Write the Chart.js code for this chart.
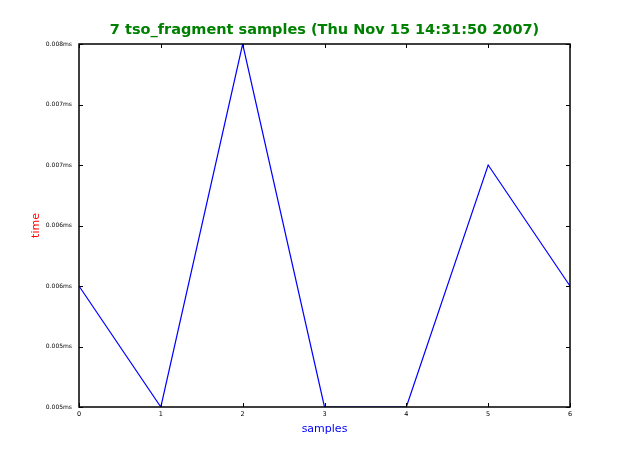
<!DOCTYPE html>
<html>
<head>
<meta charset="utf-8">
<script src="https://cdn.jsdelivr.net/npm/chart.js@4/dist/chart.umd.min.js"></script>
<style>
  html, body { margin: 0; padding: 0; background: #fff; }
  #wrap { width: 633px; height: 453px; }
</style>
</head>
<body>
<div id="wrap"><canvas id="chSamples" width="633" height="453"></canvas></div>
<script>
// ============ 数据 ============
const samples = [0, 1, 2, 3, 4, 5, 6];
const times = [0.0060, 0.0050, 0.0080, 0.0050, 0.0050, 0.0070, 0.0060];
// y 轴刻度标签（原图按三位小数取整）
const yTickLabels = ['0.005ms', '0.005ms', '0.006ms', '0.006ms', '0.007ms', '0.007ms', '0.008ms'];
const xTickLabels = ['0', '1', '2', '3', '4', '5', '6'];
const titleText = '7 tso_fragment samples (Thu Nov 15 14:31:50 2007)';
const xTitle = 'samples';
const yTitle = 'time';

const FONT = 'DejaVu Sans';

// 边框 + 向内刻度 + 标题（matplotlib 风格，标题居中于绘图区）
const frameTicks = {
  id: 'frameTicks',
  afterDraw(chart) {
    const { ctx, chartArea: a, scales } = chart;
    const len = 4;
    ctx.save();
    ctx.strokeStyle = '#000';
    ctx.lineWidth = 1;
    ctx.beginPath();
    scales.x.ticks.forEach(t => {
      const px = Math.round(scales.x.getPixelForValue(t.value)) + 0.5;
      ctx.moveTo(px, a.bottom); ctx.lineTo(px, a.bottom - len);
      ctx.moveTo(px, a.top); ctx.lineTo(px, a.top + len);
    });
    scales.y.ticks.forEach(t => {
      const py = Math.round(scales.y.getPixelForValue(t.value)) + 0.5;
      ctx.moveTo(a.left, py); ctx.lineTo(a.left + len, py);
      ctx.moveTo(a.right, py); ctx.lineTo(a.right - len, py);
    });
    ctx.stroke();
    ctx.lineWidth = 1.5;
    ctx.strokeRect(a.left, a.top, a.right - a.left, a.bottom - a.top);

    const cx = (a.left + a.right) / 2;
    const cy = (a.top + a.bottom) / 2;
    ctx.textAlign = 'center';
    ctx.textBaseline = 'middle';
    // 主标题
    ctx.fillStyle = '#008000';
    ctx.font = `bold 14.5px "${FONT}"`;
    ctx.fillText(titleText, cx, a.top - 14);
    // x 轴标题
    ctx.fillStyle = '#0000ff';
    ctx.font = `11px "${FONT}"`;
    ctx.fillText(xTitle, cx, a.bottom + 22);
    // y 轴标题
    ctx.fillStyle = '#ff0000';
    ctx.translate(36, cy);
    ctx.rotate(-Math.PI / 2);
    ctx.fillText(yTitle, 0, 0);
    ctx.restore();
  }
};

new Chart(document.getElementById('chSamples'), {
  type: 'line',
  data: {
    datasets: [{
      data: samples.map((x, i) => ({ x, y: times[i] })),
      borderColor: '#0000ff',
      borderWidth: 1.2,
      pointRadius: 0,
      tension: 0,
      fill: false
    }]
  },
  options: {
    responsive: false,
    animation: false,
    layout: { padding: { left: 0, right: 63, top: 44, bottom: 0 } },
    plugins: {
      legend: { display: false },
      tooltip: { enabled: false },
      title: { display: false }
    },
    scales: {
      x: {
        type: 'linear', min: 0, max: 6,
        ticks: {
          stepSize: 1, color: '#000', padding: 3,
          font: { family: FONT, size: 6.5 },
          callback: (v, i) => xTickLabels[i]
        },
        grid: { display: false, drawTicks: false },
        border: { display: false },
        afterFit: s => { s.height = 46; }
      },
      y: {
        type: 'linear', min: 0.005, max: 0.008,
        ticks: {
          stepSize: 0.0005, color: '#000', padding: 7,
          font: { family: FONT, size: 6 },
          callback: (v, i) => yTickLabels[i]
        },
        grid: { display: false, drawTicks: false },
        border: { display: false },
        afterFit: s => { s.width = 79; }
      }
    }
  },
  plugins: [frameTicks]
});
</script>
</body>
</html>
